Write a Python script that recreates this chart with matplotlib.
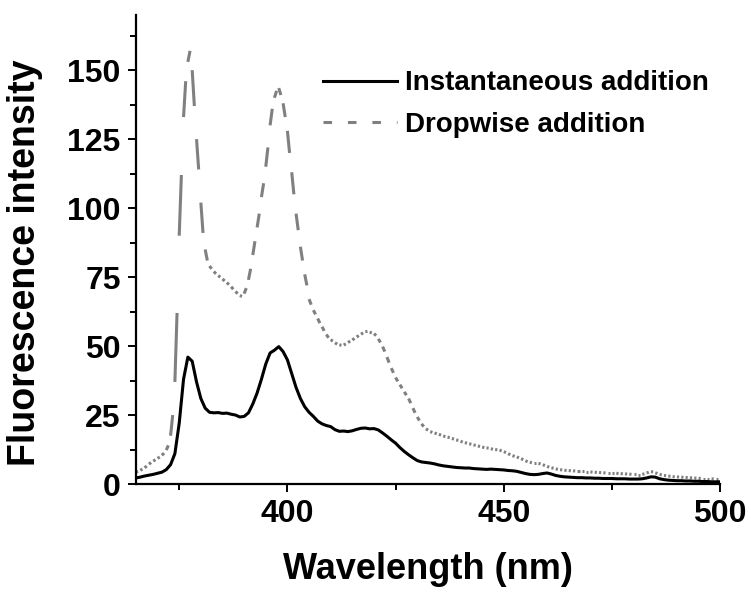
import numpy as np
import matplotlib
matplotlib.use("Agg")
import matplotlib.pyplot as plt
from matplotlib.collections import LineCollection
from matplotlib.lines import Line2D
from matplotlib.ticker import MultipleLocator

# wavelength grids (nm)
wl_drop = np.arange(365, 500.01, 0.5)
wl_inst = np.arange(365, 500.01, 1.0)

# dropwise addition, 0.5 nm step
drop = [
    4.3, 4.6, 5.0, 5.4, 5.9, 6.5, 7.2, 7.8, 8.3, 8.8, 9.3, 9.8, 10.4, 11.2, 12.3, 14.0, 17.5, 25, 37, 62,
    90, 112, 133, 146, 153, 157, 150, 137, 125, 114, 102, 91, 85, 81, 79, 78, 77, 76.2, 75.5, 75,
    74.3, 73.6, 73, 72.3, 71.5, 70.6, 69.8, 69, 68.3, 68, 69, 71, 74, 78, 83, 88, 93, 98, 104, 109,
    115, 122, 130, 136, 140, 142.5, 143.5, 141, 138, 133, 128, 120, 113, 105, 98, 92, 86, 81, 76, 72,
    67, 65, 63, 61.5, 60, 58.3, 57, 55.5, 54.2, 53, 52.3, 51.8, 51.2, 50.7, 50.4, 50.3, 50.4, 50.8, 51.3, 51.8,
    52.2, 52.8, 53.3, 53.8, 54.3, 54.8, 55.2, 55.3, 55.0, 54.8, 54.5, 53.8, 52.6, 51.3, 49.8, 48, 46, 44, 42, 40.3,
    38.6, 37.2, 36, 34.7, 33.4, 32.2, 31, 29.3, 27.5, 25.8, 24.3, 23, 21.8, 20.8, 20.0, 19.5, 19.0, 18.7, 18.5, 18.2,
    18.0, 17.7, 17.4, 17.2, 17.0, 16.8, 16.5, 16.3, 16.0, 15.8, 15.5, 15.2, 15.0, 14.8, 14.6, 14.4, 14.2, 14.0, 13.8, 13.6,
    13.4, 13.2, 13.1, 13.0, 12.8, 12.6, 12.5, 12.4, 12.3, 12.0, 11.7, 11.4, 11.0, 10.6, 10.3, 10.0, 9.8, 9.5, 9.2, 8.8,
    8.4, 8.1, 7.9, 7.7, 7.6, 7.6, 7.5, 7.3, 7.0, 6.7, 6.4, 6.1, 5.9, 5.7, 5.5, 5.3, 5.2, 5.1, 5.0, 4.9,
    4.9, 4.8, 4.8, 4.7, 4.7, 4.7, 4.6, 4.6, 4.5, 4.5, 4.4, 4.3, 4.3, 4.2, 4.2, 4.1, 4.1, 4.0, 4.0, 4.0,
    3.9, 3.9, 3.9, 3.8, 3.8, 3.7, 3.7, 3.6, 3.6, 3.5, 3.5, 3.5, 3.4, 3.4, 3.5, 3.7, 4.0, 4.3, 4.5, 4.4,
    4.1, 3.8, 3.5, 3.3, 3.1, 3.0, 2.9, 2.8, 2.7, 2.6, 2.6, 2.5, 2.5, 2.4, 2.4, 2.3, 2.3, 2.2, 2.2, 2.1,
    2.1, 2.0, 2.0, 2.0, 1.9, 1.9, 1.9, 1.8, 1.8, 1.8, 1.8,
]

# instantaneous addition, 1 nm step
inst = [
    2.2, 2.5, 2.9, 3.2, 3.5, 3.9, 4.3, 5.2, 7.0, 11,
    22, 38, 46, 44.5, 37, 31, 27.5, 26, 25.8, 25.9,
    25.6, 25.7, 25.3, 25, 24.3, 24.5, 25.8, 29, 33, 38,
    43.5, 47.5, 48.5, 49.8, 48, 45, 40, 35, 31, 28,
    26, 24.5, 22.8, 21.8, 21.2, 20.8, 19.7, 19.1, 19.2, 19.0,
    19.3, 19.8, 20.2, 20.3, 20.0, 20.1, 19.6, 18.5, 17.3, 16.0,
    14.8, 13.2, 11.8, 10.6, 9.5, 8.5, 8.0, 7.8, 7.6, 7.3,
    6.9, 6.6, 6.4, 6.2, 6.0, 5.9, 5.8, 5.8, 5.6, 5.5,
    5.4, 5.3, 5.4, 5.3, 5.2, 5.1, 4.9, 4.8, 4.6, 4.2,
    3.8, 3.5, 3.4, 3.5, 3.8, 4.0, 3.6, 3.1, 2.8, 2.6,
    2.5, 2.4, 2.3, 2.3, 2.2, 2.2, 2.1, 2.1, 2.0, 2.0,
    2.0, 1.9, 1.9, 1.9, 1.8, 1.8, 1.8, 1.9, 2.2, 2.6,
    2.5, 1.9, 1.6, 1.4, 1.3, 1.2, 1.2, 1.1, 1.1, 1.0,
    1.0, 0.9, 0.9, 0.8, 0.8, 0.8,
]

labels = ["Instantaneous addition", "Dropwise addition"]

plt.rcParams['font.family'] = ['Liberation Sans', 'DejaVu Sans']
plt.rcParams['font.weight'] = 'bold'

fig = plt.figure(figsize=(7.51, 5.92), dpi=100)
ax = fig.add_axes([0.181, 0.1824, 0.778, 0.7923])

gray = '#808080'
# dashed look the way the original software draws it: every other data segment
pts = np.column_stack([wl_drop, drop])
segs = [pts[i:i + 2] for i in range(0, len(pts) - 1, 2)]
lc = LineCollection(segs, colors=gray, linewidths=2.2, capstyle='butt')
ax.add_collection(lc)

black_line, = ax.plot(wl_inst, inst, color='black', lw=2.2)

ax.set_xlim(365, 500)
ax.set_ylim(0, 170)
ax.xaxis.set_major_locator(MultipleLocator(50))
ax.xaxis.set_minor_locator(MultipleLocator(25))
ax.yaxis.set_major_locator(MultipleLocator(25))
ax.yaxis.set_minor_locator(MultipleLocator(12.5))

for s in ['top', 'right']:
    ax.spines[s].set_visible(False)
for s in ['left', 'bottom']:
    ax.spines[s].set_linewidth(1.6)

ax.tick_params(which='major', direction='out', length=6, width=1.4, labelsize=23, pad=5)
ax.tick_params(which='minor', direction='out', length=4, width=1.4)
for t in ax.get_xticklabels() + ax.get_yticklabels():
    t.set_fontweight('bold')

ax.set_xlabel('Wavelength (nm)', fontsize=26, fontweight='bold', labelpad=16)
ax.set_ylabel('Fluorescence intensity', fontsize=27, fontweight='bold')
ax.yaxis.set_label_coords(-0.159, 0.471)

gray_proxy = Line2D([], [], color=gray, lw=2.2, dashes=(2.8, 5.2), dash_capstyle='butt')
leg = ax.legend([black_line, gray_proxy], labels, loc='upper left',
                bbox_to_anchor=(0.32, 0.882), frameon=False,
                handlelength=2.65, handletextpad=0.3, borderpad=0, borderaxespad=0,
                labelspacing=0.56, prop={'weight': 'bold', 'size': 20})

fig.savefig('out.png', dpi=100)
